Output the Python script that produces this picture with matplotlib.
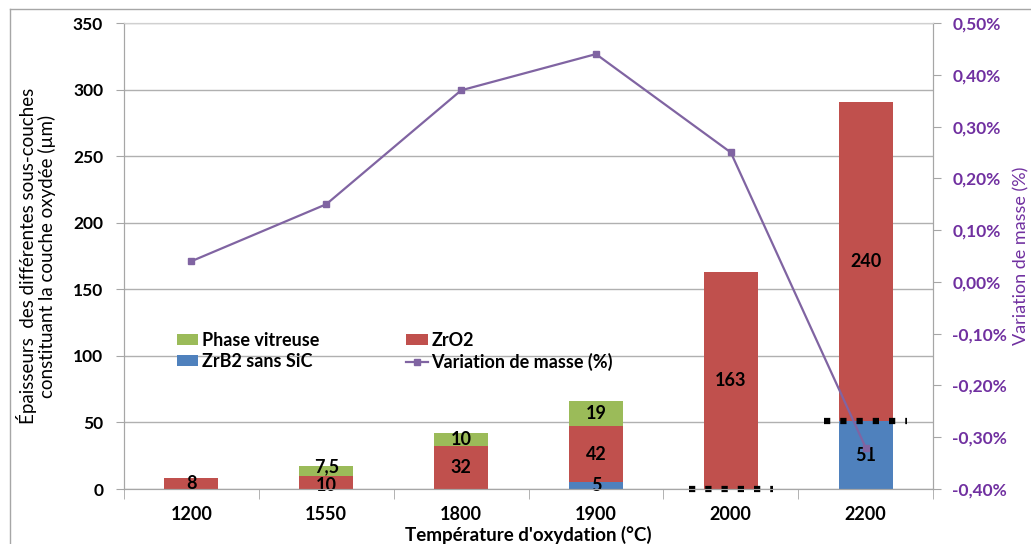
import numpy as np
import matplotlib.pyplot as plt
from matplotlib.lines import Line2D

plt.rcParams['font.family'] = ['Lato', 'DejaVu Sans']

temperatures = ['1200', '1550', '1800', '1900', '2000', '2200']
zrb2 = [0, 0, 0, 5, 0, 51]
zro2 = [8, 10, 32, 42, 163, 240]
vitreuse = [0, 7.5, 10, 19, 0, 0]
variation = [0.04, 0.15, 0.37, 0.44, 0.25, -0.32]
# ZrB2 level outlined with a dotted marker at the last two temperatures
front_idx = [4, 5]

blue = '#4F81BD'
red = '#C0504D'
green = '#9BBB59'
purple = '#8064A2'
pct_color = '#7030A0'

x = np.arange(len(temperatures))
w = 0.4

fig = plt.figure(figsize=(10.31, 5.44), dpi=100)
ax = fig.add_axes([0.1203, 0.1011, 0.9050 - 0.1203, 0.9577 - 0.1011])

zrb2 = np.array(zrb2, dtype=float)
zro2 = np.array(zro2, dtype=float)
vitreuse = np.array(vitreuse, dtype=float)

b1 = ax.bar(x, zrb2, w, color=blue, zorder=2)
b2 = ax.bar(x, zro2, w, bottom=zrb2, color=red, zorder=2)
b3 = ax.bar(x, vitreuse, w, bottom=zrb2 + zro2, color=green, zorder=2)

def fmt(v):
    return ('%g' % v).replace('.', ',')

# thin neighbouring segments: push their labels apart a little (points)
nudge = {('zro2', 1): -2, ('vit', 1): 3}

for key, vals, base in [('zrb2', zrb2, np.zeros(len(x))), ('zro2', zro2, zrb2),
                        ('vit', vitreuse, zrb2 + zro2)]:
    for i, v in enumerate(vals):
        if v > 0:
            ax.annotate(fmt(v), (x[i], base[i] + v / 2),
                        xytext=(0, nudge.get((key, i), 0)), textcoords='offset points',
                        ha='center', va='center', fontsize=13, fontweight='bold',
                        color='black', zorder=4)

for i in front_idx:
    ax.plot([x[i] - 0.31, x[i] + 0.31], [zrb2[i], zrb2[i]], color='black',
            lw=4.5, linestyle=(0, (1, 1.6)), zorder=5, solid_capstyle='butt',
            dash_capstyle='butt', clip_on=False)

ax.set_xlim(-0.5, len(x) - 0.5)
ax.set_ylim(0, 350)
ax.set_yticks(np.arange(0, 351, 50))
ax.set_xticks(x)
ax.set_xticklabels(temperatures, fontsize=13, fontweight='bold')
ax.set_xticks(np.arange(-0.5, len(x), 1), minor=True)
ax.tick_params(axis='x', which='major', length=0, pad=12)
ax.tick_params(axis='x', which='minor', length=7, color='#A6A6A6')
ax.tick_params(axis='y', length=6, color='#A6A6A6', labelsize=12.5, pad=9)
for lab in ax.get_yticklabels():
    lab.set_fontweight('bold')
ax.grid(axis='y', color='#B0B0B0', lw=1, zorder=0)
for s in ['left', 'bottom', 'right']:
    ax.spines[s].set_color('#A6A6A6')
ax.spines['top'].set_color('#D0D0D0')

ax.set_ylabel('Épaisseurs  des différentes sous-couches\nconstituant la couche oxydée (µm)',
              fontsize=13.5, labelpad=12, linespacing=1.1)
ax.set_xlabel("Température d'oxydation (°C)", fontsize=13.5, fontweight='bold', labelpad=2)

ax2 = ax.twinx()
ax2.plot(x, variation, color=purple, lw=1.6, marker='s', markersize=5, zorder=6)
ax2.set_ylim(-0.4, 0.5)
ax2.set_yticks(np.round(np.arange(-0.4, 0.51, 0.1), 2))
ax2.set_yticklabels([('%.2f%%' % v).replace('.', ',').replace('-0,00', '0,00')
                     for v in np.arange(-0.4, 0.51, 0.1)])
ax2.tick_params(axis='y', length=6, color='#A6A6A6', labelsize=12.5, labelcolor=pct_color, pad=8)
for lab in ax2.get_yticklabels():
    lab.set_fontweight('bold')
ax2.set_ylabel('Variation de masse (%)', fontsize=13, color=pct_color, labelpad=4)
for s in ['left', 'bottom', 'right']:
    ax2.spines[s].set_color('#A6A6A6')
ax2.spines['top'].set_color('#D0D0D0')

handles = [b3, b1, b2,
           Line2D([], [], color=purple, lw=1.6, marker='s', markersize=5)]
labels = ['Phase vitreuse', 'ZrB2 sans SiC', 'ZrO2', 'Variation de masse (%)']
leg = ax.legend(handles, labels, ncol=2, loc='upper left', bbox_to_anchor=(0.045, 0.372),
                frameon=False, prop={'weight': 'bold', 'size': 13},
                handlelength=1.2, handleheight=0.55, handletextpad=0.2,
                columnspacing=4.8, labelspacing=0.2)
leg.set_zorder(7)

# chart border
fig.add_artist(Line2D([10 / 1031, 10 / 1031], [0, 1 - 9 / 544], color='#A6A6A6', lw=1))
fig.add_artist(Line2D([10 / 1031, 1], [1 - 9 / 544, 1 - 9 / 544], color='#A6A6A6', lw=1))

fig.savefig('out.png', dpi=100)
